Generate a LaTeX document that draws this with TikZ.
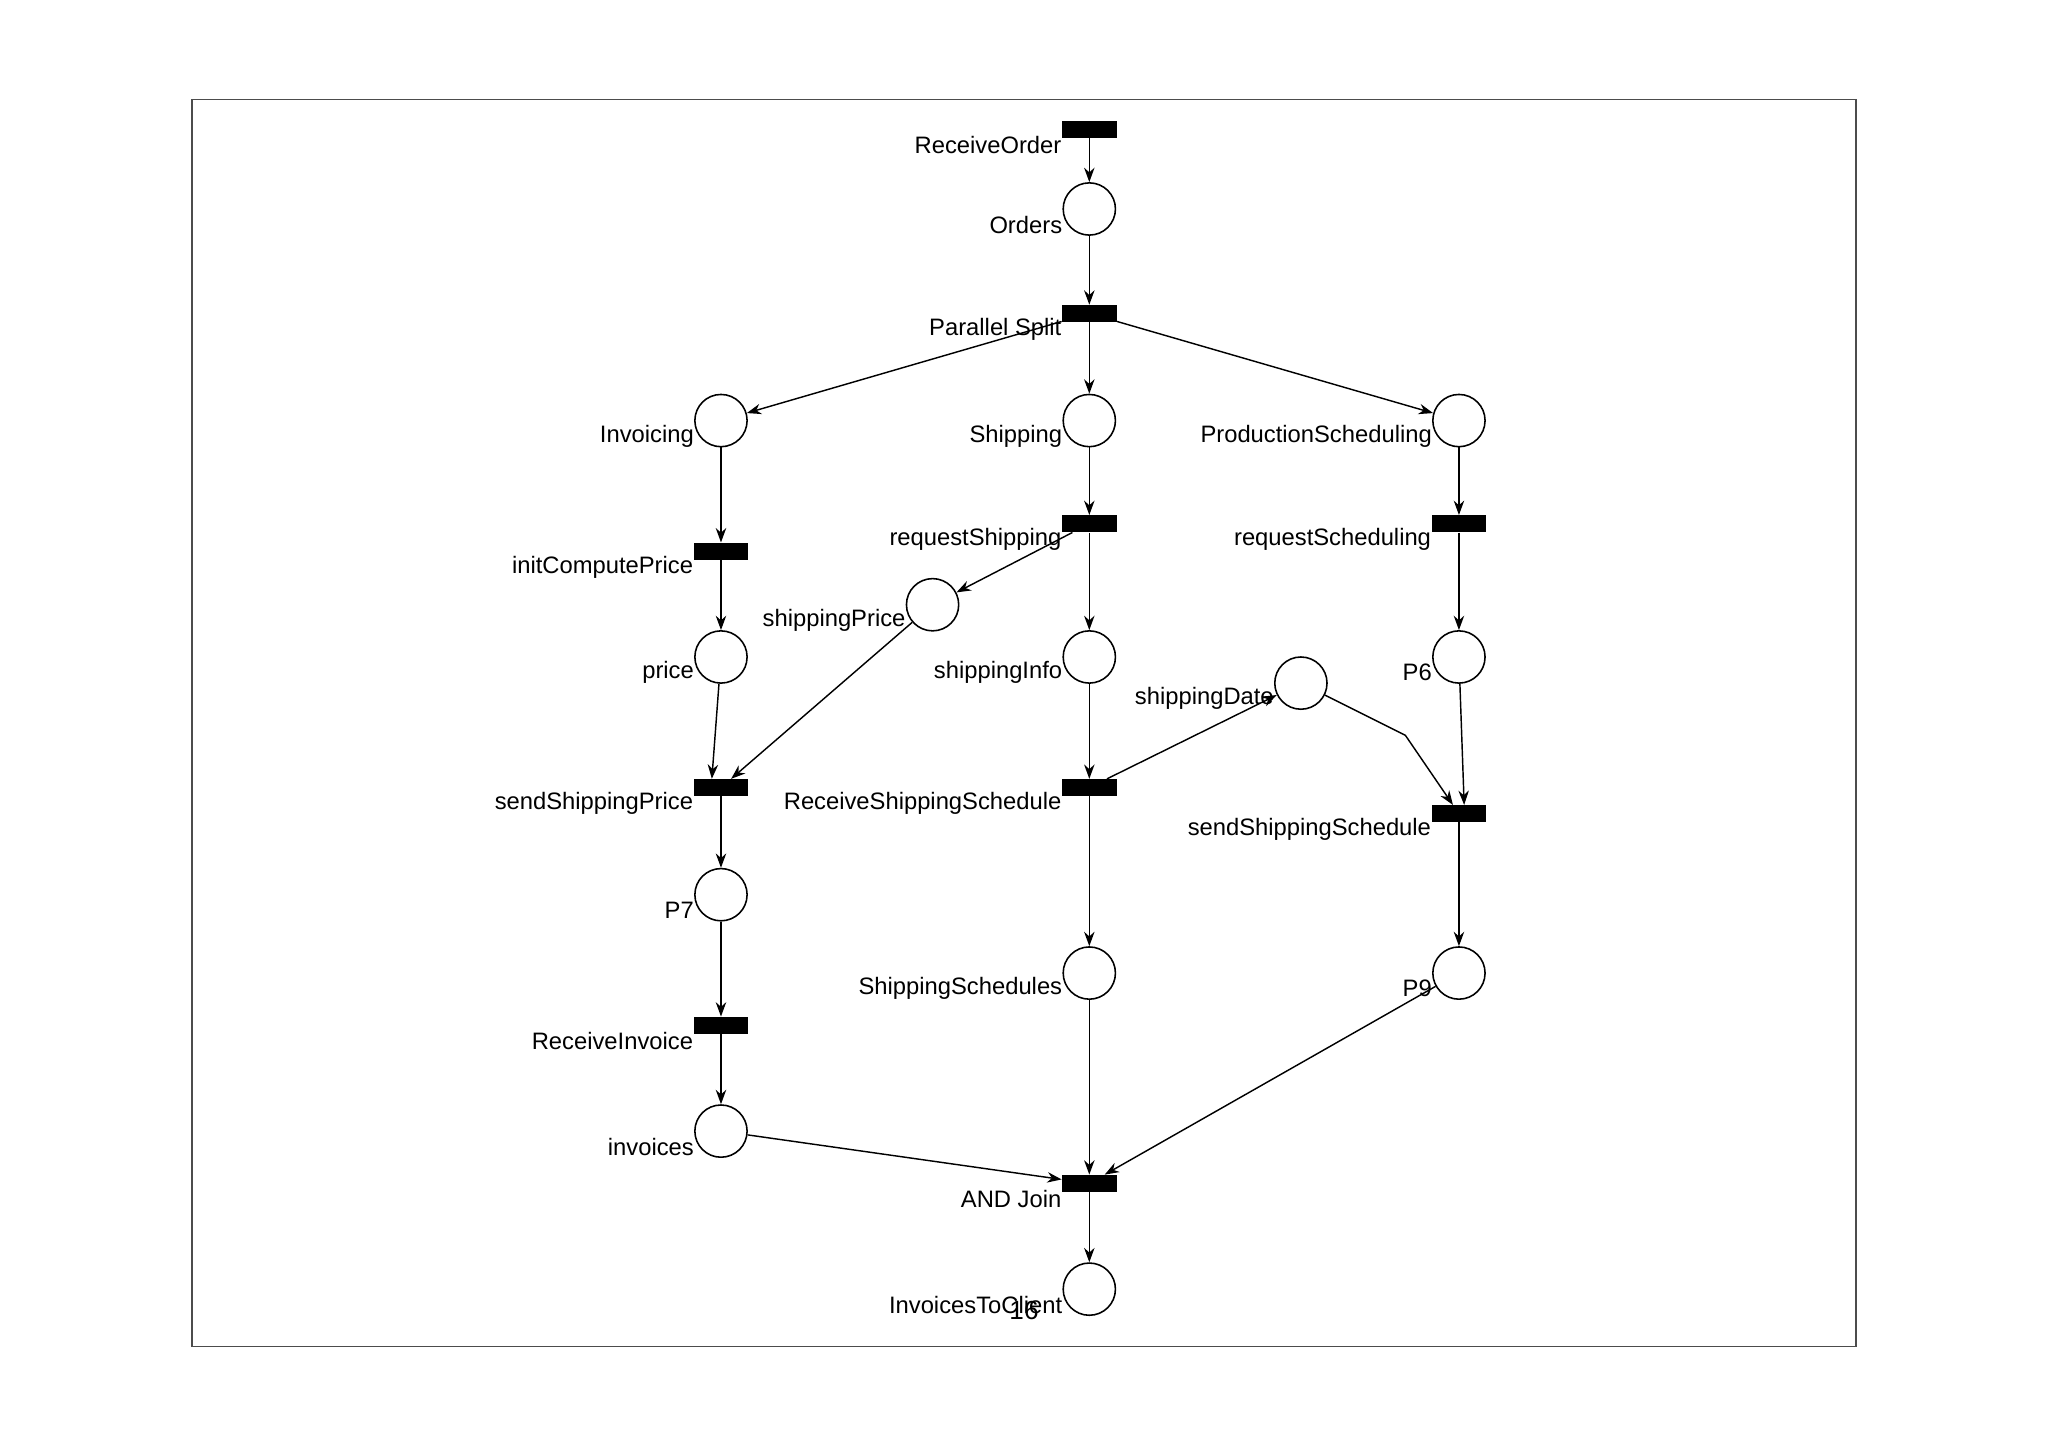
\documentclass[tikz,border=0pt]{standalone}
\usepackage{fontspec}
\setmainfont{Liberation Sans}
\usetikzlibrary{arrows.meta}
\begin{document}
\begin{tikzpicture}[x=1pt,y=-1pt,
  place/.style={circle,draw,line width=1.2pt,minimum size=40pt,inner sep=0pt},
  trans/.style={rectangle,fill=black,minimum width=42pt,minimum height=13pt,inner sep=0pt},
  lbl/.style={anchor=east,inner sep=0pt,font=\fontsize{18.2}{21}\selectfont},
  arc/.style={-{Stealth[length=11pt,width=8pt]},line width=1.1pt}]
\useasboundingbox (0,0) rectangle (1568,1107);
\fill[white] (0,0) rectangle (1568,1107);
\draw[line width=1pt,black!70] (147,76) rectangle (1421,1031);
% transitions
\node[trans] (ro) at (834,99) {};
\node[trans] (ps) at (834,240) {};
\node[trans] (rsh) at (834,401) {};
\node[trans] (rsc) at (1117,401) {};
\node[trans] (icp) at (552,422) {};
\node[trans] (ssp) at (552,603) {};
\node[trans] (rss) at (834,603) {};
\node[trans] (sss) at (1117,623) {};
\node[trans] (ri) at (552,785) {};
\node[trans] (aj) at (834,906) {};
% places
\node[place] (orders) at (834,160) {};
\node[place] (inv) at (552,322) {};
\node[place] (ship) at (834,322) {};
\node[place] (prod) at (1117,322) {};
\node[place] (sprice) at (714,463) {};
\node[place] (price) at (552,503) {};
\node[place] (sinfo) at (834,503) {};
\node[place] (p6) at (1117,503) {};
\node[place] (sdate) at (996,523) {};
\node[place] (p7) at (552,685) {};
\node[place] (ssched) at (834,745) {};
\node[place] (p9) at (1117,745) {};
\node[place] (invoices) at (552,866) {};
\node[place] (itc) at (834,987) {};
% labels
\foreach \n/\t in {ro/ReceiveOrder,orders/Orders,ps/Parallel Split,inv/Invoicing,ship/Shipping,
  prod/ProductionScheduling,rsh/requestShipping,rsc/requestScheduling,icp/initComputePrice,
  sprice/shippingPrice,price/price,sinfo/shippingInfo,p6/P6,sdate/shippingDate,
  ssp/sendShippingPrice,rss/ReceiveShippingSchedule,sss/sendShippingSchedule,p7/P7,
  ssched/ShippingSchedules,p9/P9,ri/ReceiveInvoice,invoices/invoices,aj/AND Join,itc/InvoicesToClient}
  \node[lbl] (l-\n) at ([yshift=-12pt]\n.west) {\t};
% arcs
\draw[arc] (ro) -- (orders);
\draw[arc] (orders) -- (ps);
\draw[arc] (ps) -- (inv);
\draw[arc] (ps) -- (ship);
\draw[arc] (ps) -- (prod);
\draw[arc] (inv) -- (icp);
\draw[arc] (ship) -- (rsh);
\draw[arc] (prod) -- (rsc);
\draw[arc] (icp) -- (price);
\draw[arc] (rsh) -- (sprice);
\draw[arc] (rsh) -- (sinfo);
\draw[arc] (rsc) -- (p6);
\draw[arc] (price) -- ([xshift=-7pt]ssp.north);
\draw[arc] (sprice) -- (ssp);
\draw[arc] (sinfo) -- (rss);
\draw[arc] (p6) -- ([xshift=4pt]sss.north);
\draw[arc] (rss) -- (sdate);
\coordinate (bend) at (1076,563);
\draw[arc] (sdate) -- (bend) -- (sss);
\draw[arc] (ssp) -- (p7);
\draw[arc] (rss) -- (ssched);
\draw[arc] (sss) -- (p9);
\draw[arc] (p7) -- (ri);
\draw[arc] (ri) -- (invoices);
\draw[arc] (invoices) -- (aj);
\draw[arc] (ssched) -- (aj);
\draw[arc] (p9) -- (aj);
\draw[arc] (aj) -- (itc);
\node[font=\fontsize{20}{24}\selectfont] (pg) at (784,1003) {16};
\end{tikzpicture}
\end{document}
